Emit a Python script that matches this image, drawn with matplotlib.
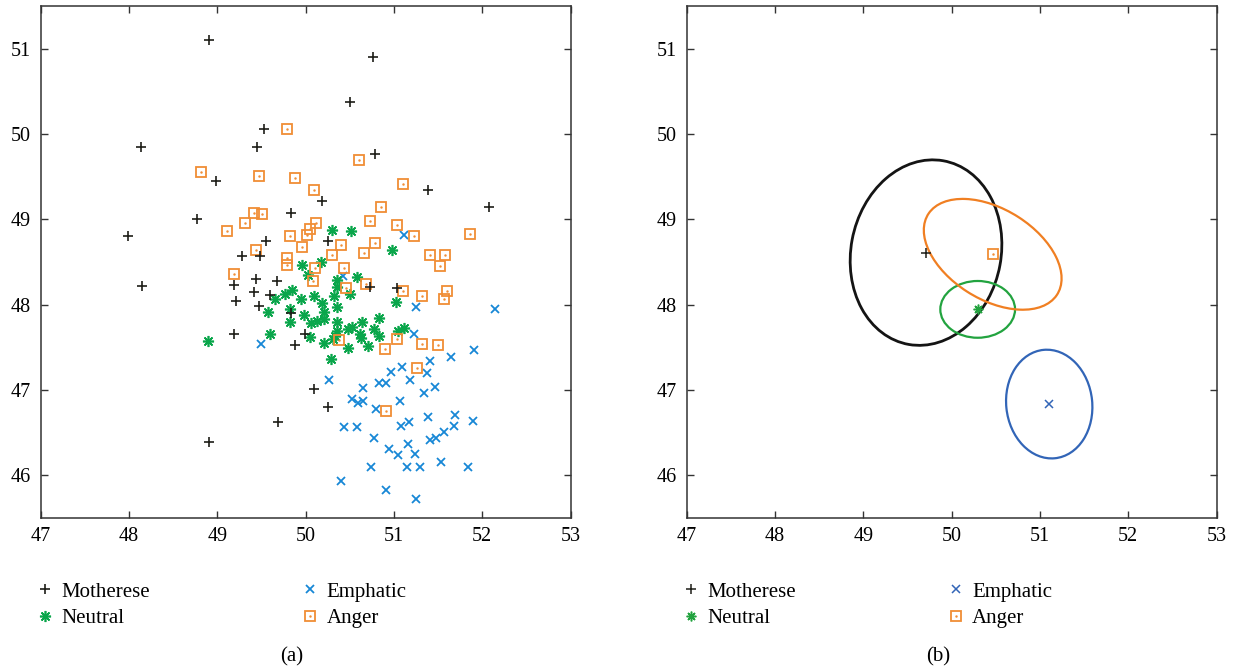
import matplotlib
matplotlib.use("Agg")
import matplotlib.pyplot as plt
from matplotlib.patches import Ellipse

plt.rcParams['font.family'] = ['Liberation Serif', 'DejaVu Serif']

# --- data ---
mot_x = [48.91, 48.14, 49.53, 49.45, 48.99, 48.77, 47.99, 49.83, 49.55, 49.28,
         49.48, 50.18, 50.76, 50.50, 50.78, 51.39, 52.08, 50.25, 48.15, 49.19,
         49.44, 49.67, 49.21, 49.41, 49.60, 49.47, 49.83, 49.19, 49.88, 49.99,
         50.09, 49.69, 48.91, 50.73, 51.03, 50.25]
mot_y = [51.11, 49.85, 50.06, 49.85, 49.45, 49.01, 48.81, 49.08, 48.75, 48.57,
         48.57, 49.21, 50.90, 50.38, 49.77, 49.34, 49.15, 48.75, 48.22, 48.23,
         48.30, 48.28, 48.04, 48.15, 48.11, 47.98, 47.90, 47.65, 47.53, 47.65,
         47.01, 46.62, 46.39, 48.21, 48.19, 46.80]

neu_x = [50.30, 50.51, 50.98, 50.17, 49.96, 50.03, 50.58, 50.36, 49.77, 49.85,
         49.65, 49.95, 50.095, 49.57, 49.82, 49.82, 49.98, 50.06, 50.125, 49.60,
         50.05, 48.89, 50.35, 50.50, 50.32, 50.19, 50.355, 50.21, 50.21, 51.02,
         50.36, 50.48, 50.53, 50.635, 50.83, 50.35, 50.33, 50.62, 50.625, 50.77,
         50.83, 50.31, 50.21, 50.48, 50.71, 51.05, 51.11, 50.29]
neu_y = [48.88, 48.86, 48.64, 48.50, 48.46, 48.35, 48.32, 48.29, 48.125, 48.175,
         48.06, 48.07, 48.10, 47.91, 47.95, 47.80, 47.88, 47.78, 47.81, 47.65,
         47.615, 47.57, 48.21, 48.12, 48.105, 48.02, 47.97, 47.91, 47.83, 48.03,
         47.79, 47.71, 47.74, 47.79, 47.84, 47.69, 47.635, 47.66, 47.61, 47.71,
         47.635, 47.60, 47.55, 47.49, 47.52, 47.69, 47.73, 47.365]

emp_x = [51.254, 52.14, 51.228, 51.907, 51.643, 51.405, 51.375, 50.967, 51.088, 51.18,
         50.26, 50.83, 50.91, 51.47, 50.65, 51.34, 50.53, 50.59, 50.65, 51.07,
         50.80, 51.39, 51.69, 51.68, 51.89, 51.17, 51.08, 50.43, 50.58, 50.77,
         51.57, 51.41, 51.48, 51.16, 50.94, 51.04, 51.24, 50.74, 51.15, 51.30,
         51.53, 51.84, 50.40, 50.91, 51.25, 50.42, 51.11, 49.495]
emp_y = [47.975, 47.95, 47.66, 47.467, 47.385, 47.34, 47.197, 47.21, 47.267, 47.11,
         47.11, 47.08, 47.075, 47.03, 47.02, 46.96, 46.89, 46.84, 46.87, 46.87,
         46.77, 46.68, 46.70, 46.58, 46.63, 46.62, 46.575, 46.56, 46.56, 46.43,
         46.50, 46.41, 46.43, 46.37, 46.30, 46.24, 46.25, 46.09, 46.09, 46.10,
         46.15, 46.09, 45.93, 45.82, 45.72, 48.33, 48.82, 47.54]

ang_x = [49.79, 48.815, 49.47, 49.88, 50.09, 49.42, 49.51, 49.31, 49.11, 50.12,
         50.05, 50.02, 49.82, 49.96, 49.44, 49.79, 49.79, 50.11, 50.60, 51.10,
         50.85, 50.73, 51.03, 51.23, 51.86, 50.40, 50.30, 50.66, 50.79, 51.405,
         51.58, 50.43, 51.52, 50.08, 49.19, 50.68, 50.46, 51.10, 51.32, 50.38,
         50.90, 51.03, 51.315, 51.26, 51.60, 51.57, 51.50, 50.91]
ang_y = [50.065, 49.56, 49.51, 49.49, 49.35, 49.07, 49.06, 48.96, 48.86, 48.96,
         48.89, 48.82, 48.80, 48.67, 48.64, 48.55, 48.46, 48.43, 49.70, 49.42,
         49.15, 48.98, 48.93, 48.81, 48.83, 48.70, 48.58, 48.60, 48.72, 48.58,
         48.585, 48.43, 48.45, 48.28, 48.36, 48.24, 48.19, 48.16, 48.10, 47.58,
         47.48, 47.60, 47.54, 47.26, 48.16, 48.06, 47.53, 46.75]

# panel (b): class centres and ellipse shapes (Motherese, Neutral, Emphatic, Anger)
ell_cx = [49.71, 50.295, 51.105, 50.465]
ell_cy = [48.61, 47.944, 46.833, 48.59]
ell_w = [2.19, 0.846, 1.278, 1.738]
ell_h = [1.70, 0.666, 0.974, 1.05]
ell_ang = [79.8, 0.0, 95.7, -33.6]

labels = ['Motherese', 'Neutral', 'Emphatic', 'Anger']
xticks = [47, 48, 49, 50, 51, 52, 53]
yticks = [46, 47, 48, 49, 50, 51]

# colours
c_mot = '#1e1e18'
c_neu = '#0aa64b'
c_emp = '#1787d6'
c_ang = '#f08d35'
ell_col = ['#141414', '#22a33f', '#3265b7', '#f07f22']
mk_col_b = ['#1e1e18', '#22a33f', '#3265b7', '#f08d35']

fig = plt.figure(figsize=(12.33, 6.69), dpi=100)
axa = fig.add_axes([0.0330, 0.2262, 0.4298, 0.7644])
axb = fig.add_axes([0.5569, 0.2262, 0.4298, 0.7644])

def style(ax):
    ax.set_xlim(47, 53)
    ax.set_ylim(45.5, 51.5)
    ax.set_xticks(xticks)
    ax.set_yticks(yticks)
    ax.tick_params(direction='in', length=5, width=1, top=True, right=True,
                   labelsize=14.5, pad=7, color='#333333')
    for s in ax.spines.values():
        s.set_linewidth(1.1)
        s.set_color('#333333')

star = (8, 2, 0)

# (a) scatter
h_emp, = axa.plot(emp_x, emp_y, 'x', color=c_emp, ms=6, mew=1.3, ls='none')
h_neu, = axa.plot(neu_x, neu_y, marker=star, color=c_neu, ms=8, mew=1.2, ls='none')
h_ang, = axa.plot(ang_x, ang_y, 's', mfc='none', mec=c_ang, ms=6.5, mew=1.3, ls='none')
h_dot, = axa.plot(ang_x, ang_y, '.', color=c_ang, ms=1.5, ls='none')
h_mot, = axa.plot(mot_x, mot_y, '+', color=c_mot, ms=7, mew=1.2, ls='none')
style(axa)

# (b) means with ellipses
for i in range(4):
    axb.add_patch(Ellipse((ell_cx[i], ell_cy[i]), ell_w[i], ell_h[i], angle=ell_ang[i],
                          fill=False, ec=ell_col[i], lw=2.0 if i == 0 else 1.6))
g_mot, = axb.plot(ell_cx[0], ell_cy[0], '+', color=mk_col_b[0], ms=7, mew=1.1, ls='none')
g_neu, = axb.plot(ell_cx[1], ell_cy[1], marker=star, color=mk_col_b[1], ms=7, mew=1.1, ls='none')
g_emp, = axb.plot(ell_cx[2], ell_cy[2], 'x', color=mk_col_b[2], ms=6, mew=1.1, ls='none')
g_ang, = axb.plot(ell_cx[3], ell_cy[3], 's', mfc='none', mec=mk_col_b[3], ms=6.5, mew=1.3, ls='none')
g_dot, = axb.plot(ell_cx[3], ell_cy[3], '.', color=mk_col_b[3], ms=1.5, ls='none')
style(axb)

# legends under each panel
def leg(handles, x0):
    fig.legend(handles, labels, loc='upper left', bbox_to_anchor=(x0, 1 - 582 / 669),
               bbox_transform=fig.transFigure, ncol=2, frameon=False, fontsize=15,
               borderpad=0, borderaxespad=0, handlelength=0.6, handletextpad=0.49,
               columnspacing=7.38, labelspacing=0.35, numpoints=1)

leg([h_mot, h_neu, h_emp, (h_ang, h_dot)], (41 - 2.25) / 1233)
leg([g_mot, g_neu, g_emp, (g_ang, g_dot)], (686.7 - 2.25) / 1233)

fig.text(292 / 1233, 1 - 657 / 669, '(a)', ha='center', va='center', fontsize=15)
fig.text(938 / 1233, 1 - 657 / 669, '(b)', ha='center', va='center', fontsize=15)

fig.savefig('out.png', dpi=100)
